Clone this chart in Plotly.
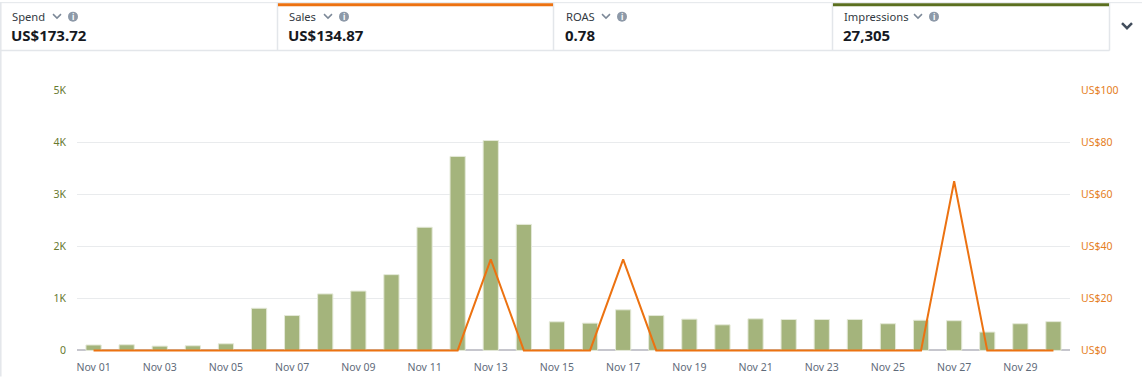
import plotly.graph_objects as go

# ---------------- data ----------------
days = ["Nov 01", "Nov 02", "Nov 03", "Nov 04", "Nov 05", "Nov 06", "Nov 07", "Nov 08",
        "Nov 09", "Nov 10", "Nov 11", "Nov 12", "Nov 13", "Nov 14", "Nov 15", "Nov 16",
        "Nov 17", "Nov 18", "Nov 19", "Nov 20", "Nov 21", "Nov 22", "Nov 23", "Nov 24",
        "Nov 25", "Nov 26", "Nov 27", "Nov 28", "Nov 29", "Nov 30"]
impressions = [105, 109, 83, 90, 128, 810, 670, 1085, 1140, 1455, 2365, 3725, 4030, 2420, 550,
               524, 780, 670, 601, 492, 607, 594, 594, 595, 513, 580, 571, 353, 513, 553]
sales = [0, 0, 0, 0, 0, 0, 0, 0, 0, 0, 0, 0, 34.96, 0, 0,
         0, 34.96, 0, 0, 0, 0, 0, 0, 0, 0, 0, 64.95, 0, 0, 0]
x_tick_labels = ["Nov 01", "Nov 03", "Nov 05", "Nov 07", "Nov 09", "Nov 11", "Nov 13", "Nov 15",
                 "Nov 17", "Nov 19", "Nov 21", "Nov 23", "Nov 25", "Nov 27", "Nov 29"]
left_tick_vals = [0, 1000, 2000, 3000, 4000, 5000]
left_tick_text = ["0", "1K", "2K", "3K", "4K", "5K"]
right_tick_vals = [0, 20, 40, 60, 80, 100]
right_tick_text = ["US$0", "US$20", "US$40", "US$60", "US$80", "US$100"]

metric_names = ["Spend", "Sales", "ROAS", "Impressions"]
metric_values = ["US$173.72", "US$134.87", "0.78", "27,305"]

# ---------------- geometry ----------------
W, H = 1142, 377
L, R, T, B = 77, 72, 90, 24.5
PW, PH = W - L - R, H - T - B


def px(x):
    return (x - L) / PW


def py(y):
    return (H - B - y) / PH


FONT = "Noto Sans"
ORANGE = "#ec7211"
GREEN_BAR = "#a4b47c"
BORDER = "#e3e6ea"

fig = go.Figure()
fig.add_trace(go.Bar(
    x=days, y=impressions, name="Impressions", yaxis="y",
    marker=dict(color=GREEN_BAR, line=dict(color="#e4e9d8", width=1)),
    width=0.46,
))
fig.add_trace(go.Scatter(
    x=days, y=sales, name="Sales", yaxis="y2", mode="lines",
    line=dict(color=ORANGE, width=2),
))

shapes = []
annotations = []

# header frame
shapes.append(dict(type="line", xref="paper", yref="paper",
                   x0=px(0), x1=px(W), y0=py(2.5), y1=py(2.5),
                   line=dict(color=BORDER, width=1)))
shapes.append(dict(type="line", xref="paper", yref="paper",
                   x0=px(0), x1=px(1109.5), y0=py(50.5), y1=py(50.5),
                   line=dict(color=BORDER, width=1.5)))
shapes.append(dict(type="line", xref="paper", yref="paper",
                   x0=px(0.8), x1=px(0.8), y0=py(2), y1=py(H),
                   line=dict(color=BORDER, width=1.5)))
for xv in [277.5, 553.5, 832.5, 1109.5]:
    shapes.append(dict(type="line", xref="paper", yref="paper",
                       x0=px(xv), x1=px(xv), y0=py(2.5), y1=py(50.5),
                       line=dict(color=BORDER, width=1.5)))
# selected-metric top bars
shapes.append(dict(type="rect", xref="paper", yref="paper",
                   x0=px(278), x1=px(553), y0=py(3), y1=py(6),
                   fillcolor=ORANGE, line=dict(width=0)))
shapes.append(dict(type="rect", xref="paper", yref="paper",
                   x0=px(833), x1=px(1109), y0=py(3), y1=py(6),
                   fillcolor="#5b6f1f", line=dict(width=0)))

card_x = [10, 287, 564, 842]
chevron_x = [57, 328, 606, 918]
for cx, chx, name, val in zip(card_x, chevron_x, metric_names, metric_values):
    annotations.append(dict(xref="paper", yref="paper", x=px(cx), y=py(16),
                            xanchor="left", yanchor="middle", showarrow=False,
                            text=name, font=dict(family=FONT, size=11.2, color="#333a42")))
    annotations.append(dict(xref="paper", yref="paper", x=px(cx - 1), y=py(35),
                            xanchor="left", yanchor="middle", showarrow=False,
                            text="<b>" + val + "</b>",
                            font=dict(family=FONT, size=15, color="#16191f")))
    # small chevron
    shapes.append(dict(type="path", xref="paper", yref="paper",
                       path=f"M {px(chx - 4)},{py(14)} L {px(chx)},{py(18)} L {px(chx + 4)},{py(14)}",
                       line=dict(color="#7d8998", width=1.5)))
    # info icon
    icx = chx + 16
    shapes.append(dict(type="circle", xref="paper", yref="paper",
                       x0=px(icx - 5), x1=px(icx + 5), y0=py(21.5), y1=py(11.5),
                       fillcolor="#8d99a8", line=dict(width=0)))
    annotations.append(dict(xref="paper", yref="paper", x=px(icx), y=py(16.5),
                            xanchor="center", yanchor="middle", showarrow=False,
                            text="<b>i</b>", font=dict(family=FONT, size=8, color="white")))

# right expand chevron
shapes.append(dict(type="path", xref="paper", yref="paper",
                   path=f"M {px(1122)},{py(23)} L {px(1127)},{py(28)} L {px(1132)},{py(23)}",
                   line=dict(color="#414d5c", width=2.5)))

fig.update_layout(
    width=W, height=H,
    margin=dict(l=L, r=R, t=T, b=B, pad=0, autoexpand=False),
    paper_bgcolor="white", plot_bgcolor="white",
    showlegend=False,
    font=dict(family=FONT),
    xaxis=dict(
        type="category", categoryorder="array", categoryarray=days,
        range=[-0.5, len(days) - 0.5], automargin=False,
        tickmode="array", tickvals=x_tick_labels, ticktext=x_tick_labels,
        tickfont=dict(family=FONT, size=10.5, color="#5f6b7a"),
        showgrid=False, showline=False, zeroline=False,
        ticks="outside", ticklen=5, tickcolor="rgba(0,0,0,0)",
    ),
    yaxis=dict(
        range=[-30, 5000], tickmode="array", automargin=False,
        tickvals=left_tick_vals, ticktext=left_tick_text,
        tickfont=dict(family=FONT, size=10.5, color="#67792f"),
        showgrid=True, gridcolor="#e9ebed", gridwidth=1,
        zeroline=True, zerolinecolor="#c6c6cd", zerolinewidth=2,
        showline=False,
        ticks="outside", ticklen=8, tickcolor="rgba(0,0,0,0)",
    ),
    yaxis2=dict(
        range=[-0.6, 100], overlaying="y", side="right", tickmode="array",
        automargin=False,
        tickvals=right_tick_vals, ticktext=right_tick_text,
        tickfont=dict(family=FONT, size=10.5, color="#e57e22"),
        showgrid=False, zeroline=False, showline=False,
        ticks="outside", ticklen=8, tickcolor="rgba(0,0,0,0)",
    ),
    shapes=shapes,
    annotations=annotations,
)

fig.write_html("out.html", config={"displayModeBar": False},
               post_script="document.body.style.margin='0';")
